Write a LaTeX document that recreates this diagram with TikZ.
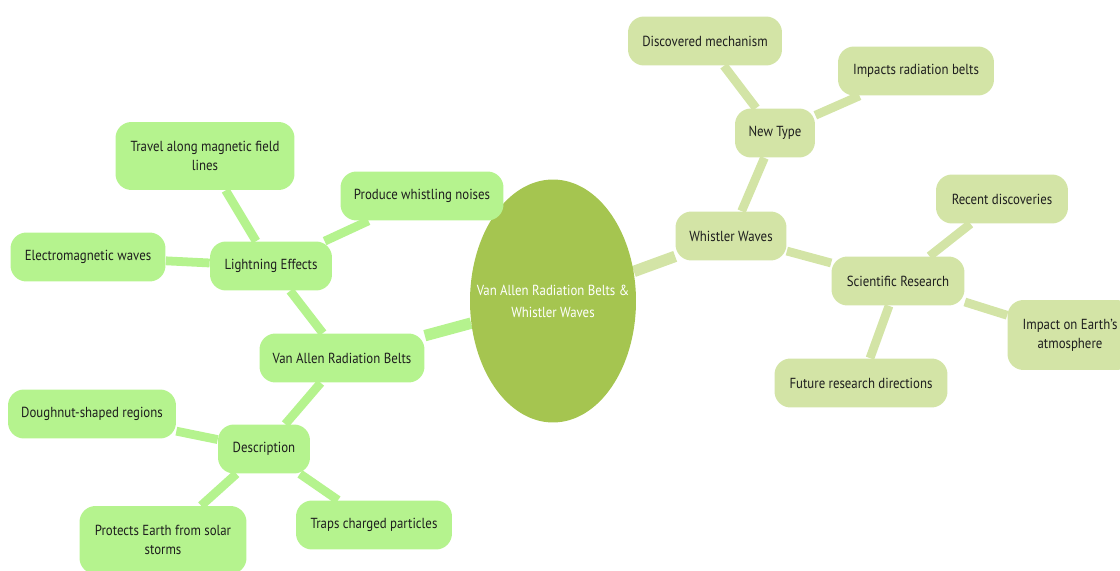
\documentclass[tikz,border=0pt]{standalone}
\usepackage{fontspec}
\setmainfont{PT Sans}[FakeStretch=0.88]
\usetikzlibrary{shapes.geometric,backgrounds}
\definecolor{leafA}{HTML}{B5F38E}
\definecolor{leafB}{HTML}{D3E4A6}
\definecolor{hub}{HTML}{A5C550}
\definecolor{ink}{HTML}{1E1E1E}
\tikzset{
  box/.style={rectangle, rounded corners=0.32cm, minimum height=0.98cm, inner sep=2pt,
    align=center, text=ink, font=\fontsize{8.3}{11}\selectfont},
  lbox/.style={box, fill=leafA},
  rbox/.style={box, fill=leafB},
  lline/.style={draw=leafA, line width=5pt},
  rline/.style={draw=leafB, line width=5pt},
  hubline/.style={line width=6.5pt},
}
\begin{document}
\begin{tikzpicture}[x=0.02cm,y=-0.02cm]
\useasboundingbox (0,0) rectangle (1120,571);
\clip (0,0) rectangle (1120,571);
% central topic
\node[ellipse, fill=hub, inner sep=0pt, minimum width=3.32cm, minimum height=4.86cm,
  label={[text=white, align=center, font=\fontsize{8.3}{12.5}\selectfont]center:Van Allen Radiation Belts \&\\Whistler Waves}]
  (hubnode) at (553,301) {};
% right branch
\node[rbox, minimum width=2.22cm] (ww) at (731,236) {Whistler Waves};
\node[rbox, minimum width=1.6cm] (nt) at (775,133) {New Type};
\node[rbox, minimum width=3.08cm] (dm) at (705,41) {Discovered mechanism};
\node[rbox, minimum width=3.12cm] (irb) at (916,71) {Impacts radiation belts};
\node[rbox, minimum width=2.66cm] (sr) at (898,281) {Scientific Research};
\node[rbox, minimum width=2.64cm] (rd) at (1002,199) {Recent discoveries};
\node[rbox, minimum width=2.5cm, minimum height=1.4cm] (iea) at (1070,335) {Impact on Earth's\\atmosphere};
\node[rbox, minimum width=3.46cm] (frd) at (861,383) {Future research directions};
% left branch
\node[lbox, minimum width=3.3cm] (vab) at (342,358) {Van Allen Radiation Belts};
\node[lbox, minimum width=2.44cm] (le) at (271,266) {Lightning Effects};
\node[lbox, minimum width=3.58cm, minimum height=1.36cm] (tmf) at (205,156) {Travel along magnetic field\\lines};
\node[lbox, minimum width=3.1cm] (emw) at (88,257) {Electromagnetic waves};
\node[lbox, minimum width=3.26cm] (pwn) at (422,196) {Produce whistling noises};
\node[lbox, minimum width=1.84cm] (desc) at (264,449) {Description};
\node[lbox, minimum width=3.36cm] (dsr) at (92,414) {Doughnut-shaped regions};
\node[lbox, minimum width=3.34cm, minimum height=1.36cm] (pes) at (163,540) {Protects Earth from solar\\storms};
\node[lbox, minimum width=3.12cm] (tcp) at (374,525) {Traps charged particles};
% connectors
\begin{scope}[on background layer]
  \draw[rline, hubline] (hubnode) -- (ww);
  \draw[rline] (ww) -- (nt);
  \draw[rline] (nt) -- (dm);
  \draw[rline] (nt) -- (irb);
  \draw[rline] (ww) -- (sr);
  \draw[rline] (sr) -- (rd);
  \draw[rline] (sr) -- (iea);
  \draw[rline] (sr) -- (frd);
  \draw[lline, hubline] (hubnode) -- (vab);
  \draw[lline] (vab) -- (le);
  \draw[lline] (le) -- (tmf);
  \draw[lline] (le) -- (emw);
  \draw[lline] (le) -- (pwn);
  \draw[lline] (vab) -- (desc);
  \draw[lline] (desc) -- (dsr);
  \draw[lline] (desc) -- (pes);
  \draw[lline] (desc) -- (tcp);
\end{scope}
\end{tikzpicture}
\end{document}
